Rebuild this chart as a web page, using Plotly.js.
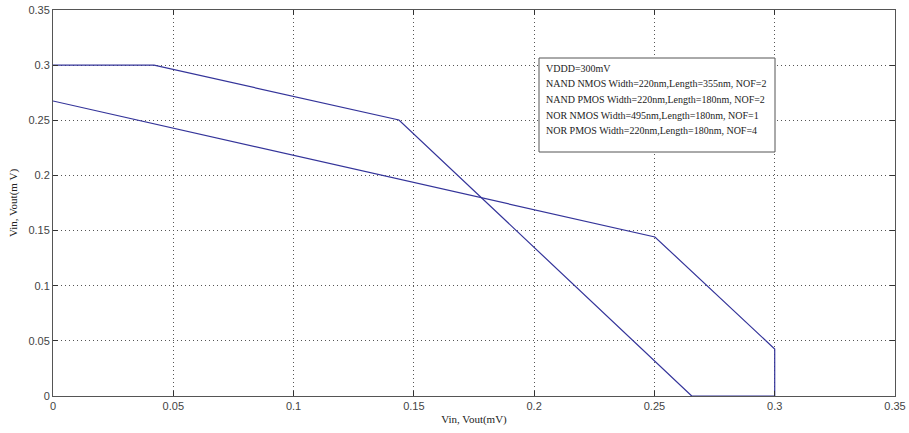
<!DOCTYPE html>
<html>
<head>
<meta charset="utf-8">
<script src="https://cdn.plot.ly/plotly-3.0.1.min.js"></script>
<style>html,body{margin:0;padding:0;background:#fff;}#chart{width:909px;height:433px;}</style>
</head>
<body>
<div id="chart"></div>
<script>
// Curve 1 (NAND-like transfer)
const curve1X = [0, 0.042, 0.1438, 0.2655, 0.3];
const curve1Y = [0.3, 0.3, 0.2503, 0, 0];
// Curve 2 (NOR-like transfer)
const curve2X = [0, 0.2502, 0.3, 0.3];
const curve2Y = [0.2675, 0.1442, 0.0426, 0];
const tickVals = [0, 0.05, 0.1, 0.15, 0.2, 0.25, 0.3, 0.35];
const tickText = ["0", "0.05", "0.1", "0.15", "0.2", "0.25", "0.3", "0.35"];
const infoLines = [
  "VDDD=300mV",
  "NAND NMOS Width=220nm,Length=355nm, NOF=2",
  "NAND PMOS Width=220nm,Length=180nm, NOF=2",
  "NOR NMOS Width=495nm,Length=180nm, NOF=1",
  "NOR PMOS Width=220nm,Length=180nm, NOF=4"
];

const lineStyle = {color: '#34349a', width: 1.2};
const traces = [
  {x: curve1X, y: curve1Y, mode: 'lines', line: lineStyle, showlegend: false, hoverinfo: 'skip'},
  {x: curve2X, y: curve2Y, mode: 'lines', line: lineStyle, showlegend: false, hoverinfo: 'skip'}
];

const axisCommon = {
  range: [0, 0.35],
  tickvals: tickVals,
  ticktext: tickText,
  ticks: 'inside',
  ticklen: 5,
  tickcolor: '#333',
  showline: true,
  linecolor: '#555',
  linewidth: 1,
  mirror: 'ticks',
  showgrid: true,
  gridcolor: '#555',
  griddash: '1px,3px',
  gridwidth: 1,
  zeroline: false,
  tickfont: {family: 'Liberation Sans, Arial, sans-serif', size: 11, color: '#444'}
};

const annotations = infoLines.map((t, i) => ({
  xref: 'paper', yref: 'paper',
  x: (544 - 53) / 842, y: (396 - (68 + i * 15.7)) / 386,
  xanchor: 'left', yanchor: 'middle', align: 'left',
  showarrow: false,
  text: t,
  font: {family: 'Liberation Serif, serif', size: 10, color: '#222'}
}));

const layout = {
  width: 909, height: 433,
  margin: {l: 53, r: 14, t: 10, b: 37},
  paper_bgcolor: '#fff', plot_bgcolor: '#fff',
  xaxis: Object.assign({}, axisCommon, {
    title: {text: 'Vin, Vout(mV)', font: {family: 'Liberation Serif, serif', size: 11, color: '#222'}, standoff: 4}
  }),
  yaxis: Object.assign({}, axisCommon, {
    title: {text: 'Vin, Vout(m V)', font: {family: 'Liberation Serif, serif', size: 11, color: '#222'}, standoff: 8}
  }),
  shapes: [{
    type: 'rect', xref: 'paper', yref: 'paper',
    x0: (539 - 53) / 842, x1: (775 - 53) / 842,
    y0: (396 - 152) / 386, y1: (396 - 58) / 386,
    line: {color: '#555', width: 1}, fillcolor: '#fff', layer: 'above'
  }],
  annotations: annotations
};

Plotly.newPlot('chart', traces, layout, {staticPlot: true, displayModeBar: false});
</script>
</body>
</html>
